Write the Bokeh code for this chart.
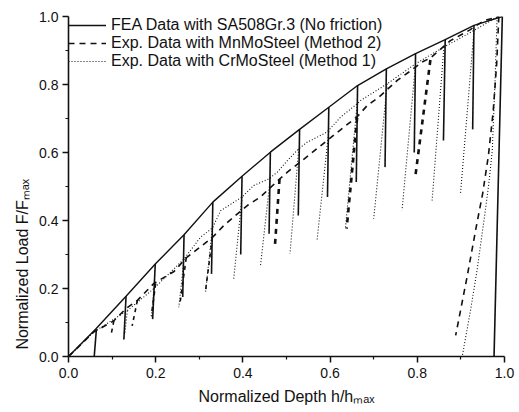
from bokeh.plotting import figure
from bokeh.models import Range1d, FixedTicker, Legend, LegendItem
from bokeh.embed import file_html
from bokeh.resources import INLINE

# ---------------- data ----------------
x_ticks = [0.0, 0.2, 0.4, 0.6, 0.8, 1.0]
x_minor = [0.1, 0.3, 0.5, 0.7, 0.9]
x_tick_labels = ["0.0", "0.2", "0.4", "0.6", "0.8", "1.0"]
y_ticks = [0.0, 0.2, 0.4, 0.6, 0.8, 1.0]
y_minor = [0.1, 0.3, 0.5, 0.7, 0.9]
y_tick_labels = ["0.0", "0.2", "0.4", "0.6", "0.8", "1.0"]

x_title = "Normalized Depth h/h\u2098\u2090\u2093"
y_title = "Normalized Load F/F\u2098\u2090\u2093"

series_names = ["FEA Data with SA508Gr.3 (No friction)",
                "Exp. Data with MnMoSteel (Method 2)",
                "Exp. Data with CrMoSteel (Method 1)"]

# FEA (solid) loading envelope
fea_x = [0.0, 0.062, 0.132, 0.199, 0.265, 0.331, 0.398, 0.463, 0.530, 0.597, 0.663, 0.729, 0.796, 0.864, 0.930, 0.995]
fea_y = [0.0, 0.080, 0.177, 0.272, 0.358, 0.454, 0.530, 0.601, 0.668, 0.733, 0.797, 0.846, 0.891, 0.932, 0.974, 1.000]
# FEA unloading lines (top -> end)
fea_un_x0 = [0.064, 0.132, 0.199, 0.265, 0.331, 0.398, 0.463, 0.530, 0.597, 0.663, 0.729, 0.796, 0.864, 0.930, 0.995]
fea_un_y0 = [0.080, 0.177, 0.272, 0.358, 0.454, 0.530, 0.601, 0.668, 0.733, 0.797, 0.846, 0.891, 0.932, 0.974, 1.000]
fea_un_x1 = [0.059, 0.127, 0.193, 0.262, 0.328, 0.395, 0.460, 0.527, 0.594, 0.660, 0.726, 0.793, 0.860, 0.927, 0.976]
fea_un_y1 = [0.000, 0.050, 0.110, 0.175, 0.243, 0.300, 0.361, 0.415, 0.469, 0.513, 0.557, 0.600, 0.635, 0.668, 0.000]

# MnMoSteel (dashed) loading envelope
mn_x = [0.0, 0.058, 0.104, 0.131, 0.158, 0.196, 0.242, 0.270, 0.287, 0.330, 0.356, 0.410, 0.440, 0.484,
        0.502, 0.555, 0.593, 0.631, 0.662, 0.685, 0.712, 0.754, 0.780, 0.811, 0.830, 0.876, 0.920, 0.953, 0.987]
mn_y = [0.0, 0.072, 0.105, 0.140, 0.165, 0.215, 0.250, 0.290, 0.307, 0.350, 0.385, 0.444, 0.469, 0.522,
        0.542, 0.596, 0.635, 0.674, 0.705, 0.738, 0.763, 0.812, 0.836, 0.866, 0.878, 0.929, 0.960, 0.988, 1.000]
# MnMoSteel thin unloading lines
mn_un_x0 = [0.104, 0.158, 0.200, 0.270, 0.330]
mn_un_y0 = [0.105, 0.165, 0.215, 0.290, 0.350]
mn_un_x1 = [0.097, 0.146, 0.190, 0.255, 0.314]
mn_un_y1 = [0.060, 0.090, 0.120, 0.150, 0.190]
# MnMoSteel heavy unloading lines
mn_hv_x0 = [0.484, 0.662, 0.830]
mn_hv_y0 = [0.522, 0.702, 0.872]
mn_hv_x1 = [0.473, 0.638, 0.795]
mn_hv_y1 = [0.317, 0.376, 0.525]
# MnMoSteel final unloading
mn_fin_x = [0.987, 0.982, 0.974, 0.963, 0.950, 0.935, 0.914, 0.888]
mn_fin_y = [1.000, 0.860, 0.720, 0.590, 0.480, 0.380, 0.233, 0.062]

# CrMoSteel (dotted) loading envelope
cr_x = [0.0, 0.058, 0.135, 0.196, 0.265, 0.303, 0.330, 0.349, 0.398, 0.425, 0.459, 0.479, 0.502, 0.528,
        0.547, 0.593, 0.624, 0.662, 0.670, 0.731, 0.796, 0.861, 0.930, 0.983]
cr_y = [0.0, 0.072, 0.135, 0.200, 0.287, 0.351, 0.378, 0.429, 0.469, 0.503, 0.522, 0.542, 0.576, 0.611,
        0.630, 0.660, 0.704, 0.743, 0.753, 0.802, 0.861, 0.910, 0.959, 0.998]
# CrMoSteel unloading lines
cr_un_x0 = [0.135, 0.196, 0.265, 0.330, 0.398, 0.463, 0.528, 0.597, 0.662, 0.731, 0.796, 0.861, 0.930]
cr_un_y0 = [0.135, 0.200, 0.287, 0.378, 0.469, 0.526, 0.611, 0.663, 0.743, 0.802, 0.861, 0.910, 0.959]
cr_un_x1 = [0.129, 0.190, 0.253, 0.314, 0.379, 0.440, 0.508, 0.570, 0.635, 0.700, 0.765, 0.834, 0.899]
cr_un_y1 = [0.065, 0.115, 0.145, 0.185, 0.229, 0.263, 0.302, 0.341, 0.375, 0.405, 0.430, 0.459, 0.478]
# CrMoSteel final unloading
cr_fin_x = [0.983, 0.978, 0.972, 0.964, 0.956, 0.937, 0.922, 0.903]
cr_fin_y = [0.998, 0.800, 0.606, 0.508, 0.429, 0.253, 0.135, 0.000]

# ---------------- figure ----------------
FONT = "Liberation Sans"
INK = "#111111"

p = figure(width=517, height=410, output_backend="svg", toolbar_location=None,
           x_range=Range1d(0, 1.0), y_range=Range1d(0, 1.0),
           min_border_left=68, min_border_right=13, min_border_top=16, min_border_bottom=54)
p.outline_line_color = None
p.grid.visible = False
p.background_fill_color = "white"
p.border_fill_color = "white"

for ax, ticks, minor, labels in ((p.xaxis[0], x_ticks, x_minor, x_tick_labels),
                                 (p.yaxis[0], y_ticks, y_minor, y_tick_labels)):
    ax.ticker = FixedTicker(ticks=ticks, minor_ticks=minor)
    ax.major_label_overrides = {t: l for t, l in zip(ticks, labels)}
    ax.axis_line_width = 1.6
    ax.axis_line_color = INK
    ax.major_tick_line_width = 1.5
    ax.major_tick_line_color = INK
    ax.minor_tick_line_width = 1.2
    ax.minor_tick_line_color = INK
    ax.major_tick_in = 0
    ax.major_tick_out = 6
    ax.minor_tick_in = 0
    ax.minor_tick_out = 3
    ax.major_label_text_font = FONT
    ax.major_label_text_font_size = "14px"
    ax.major_label_text_color = INK
    ax.axis_label_text_font = FONT
    ax.axis_label_text_font_size = "16px"
    ax.axis_label_text_font_style = "normal"
    ax.axis_label_text_color = INK

p.xaxis.major_label_standoff = 5
p.yaxis.major_label_standoff = 4
p.xaxis.axis_label = x_title
p.xaxis.axis_label_standoff = 7
# trailing no-break spaces shift the title toward the lower part of the axis, as in the original
p.yaxis.axis_label = y_title + "\u00a0" * 35
p.yaxis.axis_label_standoff = 5

# FEA
r_fea = p.line(fea_x, fea_y, line_color=INK, line_width=1.4)
p.segment(fea_un_x0, fea_un_y0, fea_un_x1, fea_un_y1, line_color=INK, line_width=1.6)

# MnMoSteel
r_mn = p.line(mn_x, mn_y, line_color=INK, line_width=1.6, line_dash="6 5")
p.segment(mn_un_x0, mn_un_y0, mn_un_x1, mn_un_y1, line_color=INK, line_width=1.6, line_dash="4 4")
p.segment(mn_hv_x0, mn_hv_y0, mn_hv_x1, mn_hv_y1, line_color=INK, line_width=2.6, line_dash="5 5")
p.line(mn_fin_x, mn_fin_y, line_color=INK, line_width=1.6, line_dash="6 5")

# CrMoSteel
r_cr = p.line(cr_x, cr_y, line_color=INK, line_width=1.1, line_dash="1 2")
p.segment(cr_un_x0, cr_un_y0, cr_un_x1, cr_un_y1, line_color=INK, line_width=1.1, line_dash="1 2")
p.line(cr_fin_x, cr_fin_y, line_color=INK, line_width=1.1, line_dash="1 2")

legend = Legend(items=[LegendItem(label=series_names[0], renderers=[r_fea]),
                       LegendItem(label=series_names[1], renderers=[r_mn]),
                       LegendItem(label=series_names[2], renderers=[r_cr])],
                location="top_left", margin=0, padding=0, spacing=0,
                glyph_width=38, glyph_height=18, label_height=18, label_standoff=5,
                label_text_font=FONT, label_text_font_size="16px", label_text_color=INK,
                background_fill_alpha=0, border_line_color=None)
p.add_layout(legend)

open("out.html", "w").write(file_html(p, INLINE))
